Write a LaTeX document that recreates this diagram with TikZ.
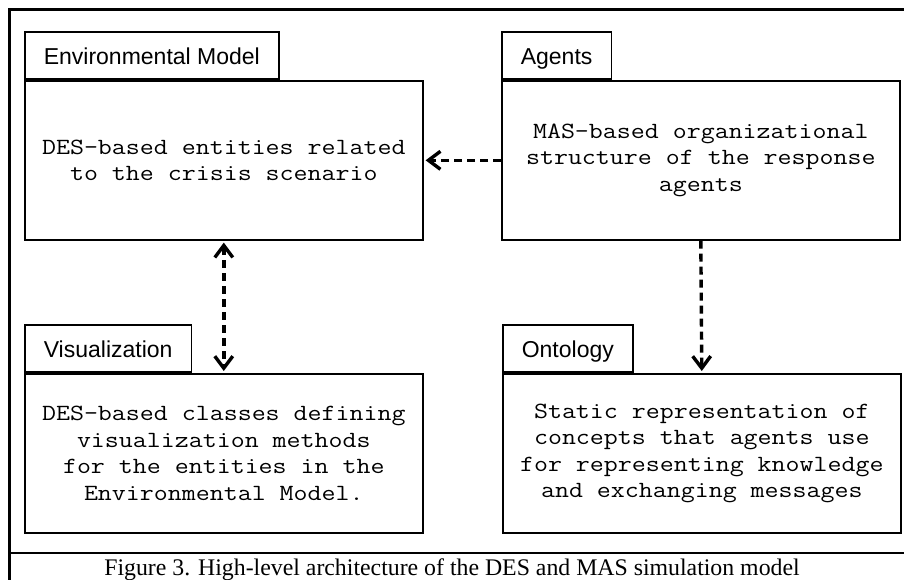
\documentclass[tikz,border=0pt]{standalone}
\usepackage{fontspec}
\setmainfont{Liberation Serif}
\setsansfont{Liberation Sans}
\setmonofont[FakeStretch=1.17]{Latin Modern Mono}
\usetikzlibrary{arrows.meta}

\begin{document}
\begin{tikzpicture}[x=1pt,y=-1pt,
  panel/.style={draw, line width=1.6pt, anchor=north west, align=center,
    minimum width=398pt, minimum height=159pt, inner sep=0pt,
    font=\ttfamily\fontsize{23.2}{26.5}\selectfont},
  tab/.style={draw, line width=1.6pt, anchor=south west, inner xsep=19pt,
    inner ysep=0pt, minimum height=47pt, text height=19pt, text depth=1pt,
    font=\sffamily\fontsize{23}{26}\selectfont},
  link/.style={line width=3.4pt, dash pattern=on 8pt off 5pt},
  head/.style={Straight Barb[length=12pt,width=18pt]}]

\useasboundingbox (0,0) rectangle (904,580);

% outer frame and caption separator
\draw[line width=3pt] (9,600) -- (9,10) -- (920,10);
\draw[line width=2.5pt] (9,553) -- (920,553);

% the four modules
\node[panel] (env) at (24,80) {DES-based entities related\\to the crisis scenario};
\node[tab] (envtab) at (env.north west) {Environmental Model};

\node[panel] (agents) at (501,80) {MAS-based organizational\\structure of the response\\agents};
\node[tab] (agentstab) at (agents.north west) {Agents};

\node[panel] (vis) at (24,373) {DES-based classes defining\\visualization methods\\for the entities in the\\Environmental Model.};
\node[tab] (vistab) at (vis.north west) {Visualization};

\node[panel] (onto) at (502,373) {Static representation of\\concepts that agents use\\for representing knowledge\\and exchanging messages};
\node[tab] (ontotab) at (onto.north west) {Ontology};

% dependencies
\draw[link, -{Straight Barb[length=12pt,width=18pt]}, shorten >=2pt] (agents.west) -- (env.east);
\draw[link, -{Straight Barb[length=12pt,width=18pt]}, shorten >=2pt] (agents.south) -- (onto.north);
\draw[link, {Straight Barb[length=12pt,width=18pt]}-{Straight Barb[length=12pt,width=18pt]}, shorten >=2pt, shorten <=2pt] (env.south) -- (vis.north);

% caption
\node[anchor=base, font=\fontsize{23.8}{26}\selectfont] (caption) at (452,575)
  {Figure 3. High-level architecture of the DES and MAS simulation model};
\end{tikzpicture}
\end{document}
